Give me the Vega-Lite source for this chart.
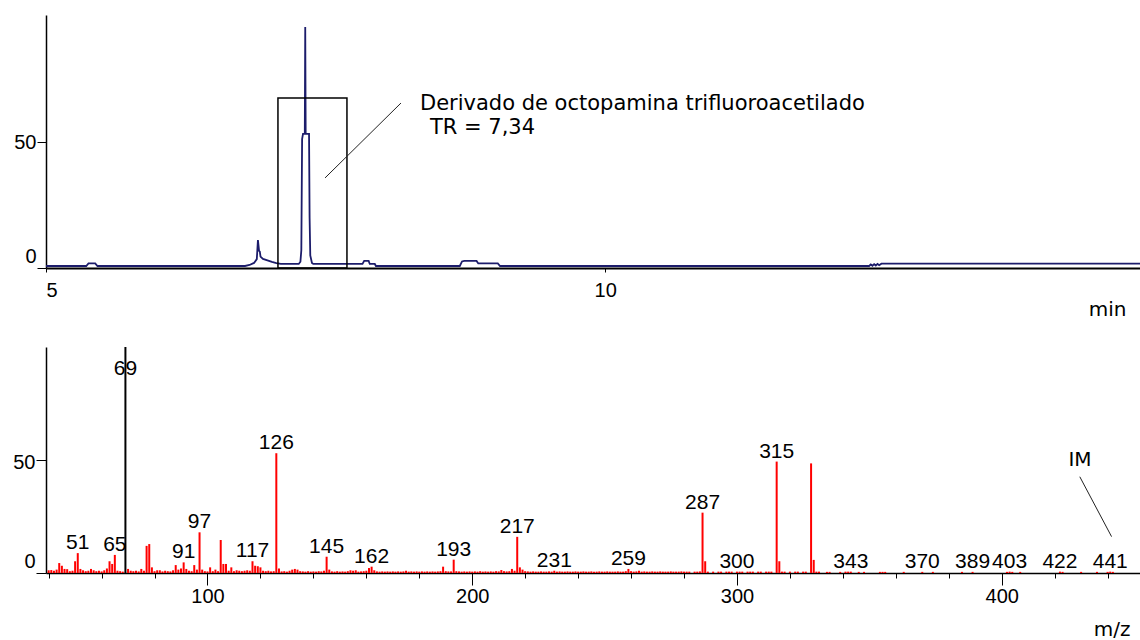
{
 "$schema": "https://vega.github.io/schema/vega-lite/v6.json",
 "padding": {"left": 12, "top": 15, "right": 0, "bottom": 0},
 "background": "white",
 "bounds": "flush",
 "spacing": 79,
 "config": {
  "view": {"stroke": null},
  "axis": {"grid": false, "domainColor": "#000", "tickColor": "#000", "labelColor": "#000", "labelFont": "Liberation Sans", "labelFontSize": 20, "titleFont": "DejaVu Sans", "titleFontSize": 20, "titleFontWeight": "normal", "titleColor": "#000", "labelOverlap": false}
 },
 "datasets": {
  "chrom": [
   {"t":5.0,"v":0.8},{"t":5.36,"v":0.8},{"t":5.38,"v":1.8},{"t":5.44,"v":1.8},{"t":5.46,"v":0.8},{"t":6.78,"v":0.8},{"t":6.82,"v":1.2},{"t":6.86,"v":2.0},{"t":6.885,"v":3.5},{"t":6.895,"v":11.0},{"t":6.9,"v":9.0},{"t":6.905,"v":6.8},{"t":6.912,"v":6.5},{"t":6.918,"v":4.5},{"t":6.94,"v":3.6},{"t":6.98,"v":3.0},{"t":7.02,"v":2.4},{"t":7.06,"v":1.9},{"t":7.1,"v":1.6},{"t":7.26,"v":1.6},{"t":7.275,"v":2.5},{"t":7.283,"v":7.0},{"t":7.29,"v":51.0},{"t":7.298,"v":53.0},{"t":7.314,"v":53.0},{"t":7.318,"v":95.3},{"t":7.322,"v":53.0},{"t":7.352,"v":53.0},{"t":7.357,"v":20.0},{"t":7.363,"v":5.0},{"t":7.378,"v":2.0},{"t":7.39,"v":1.6},{"t":7.83,"v":1.6},{"t":7.845,"v":2.8},{"t":7.885,"v":2.8},{"t":7.895,"v":1.6},{"t":7.94,"v":1.6},{"t":7.95,"v":0.8},{"t":8.7,"v":0.8},{"t":8.72,"v":2.6},{"t":8.74,"v":2.8},{"t":8.85,"v":2.8},{"t":8.865,"v":1.8},{"t":9.04,"v":1.8},{"t":9.06,"v":0.8},{"t":12.36,"v":0.8},{"t":12.375,"v":1.4},{"t":12.39,"v":0.9},{"t":12.405,"v":1.5},{"t":12.42,"v":1.0},{"t":12.435,"v":1.6},{"t":12.45,"v":1.1},{"t":12.47,"v":1.7},{"t":14.8,"v":1.7}
  ],
  "ms": [
   {"mz":40,"i":1.2},{"mz":41,"i":1.3},{"mz":42,"i":1.0},{"mz":43,"i":1.5},{"mz":44,"i":4.4},{"mz":45,"i":3.2},{"mz":46,"i":1.8},{"mz":47,"i":1.7},{"mz":48,"i":0.8},{"mz":49,"i":1.0},{"mz":50,"i":5.2},{"mz":51,"i":8.8,"lab":"51"},{"mz":52,"i":1.8},{"mz":53,"i":1.2},{"mz":54,"i":0.8},{"mz":55,"i":1.0},{"mz":56,"i":1.8},{"mz":57,"i":1.2},{"mz":58,"i":0.8},{"mz":59,"i":1.0},{"mz":60,"i":0.7},{"mz":61,"i":1.2},{"mz":62,"i":2.0},{"mz":63,"i":5.2},{"mz":64,"i":4.0},{"mz":65,"i":8.0,"lab":"65"},{"mz":66,"i":1.0},{"mz":67,"i":0.8},{"mz":68,"i":0.6},{"mz":69,"i":100},{"mz":70,"i":1.8},{"mz":71,"i":1.0},{"mz":72,"i":0.8},{"mz":73,"i":1.0},{"mz":74,"i":0.7},{"mz":75,"i":1.8},{"mz":76,"i":1.0},{"mz":77,"i":12.0},{"mz":78,"i":12.8},{"mz":79,"i":2.5},{"mz":80,"i":0.8},{"mz":81,"i":1.2},{"mz":82,"i":1.2},{"mz":83,"i":0.7},{"mz":84,"i":1.0},{"mz":85,"i":0.8},{"mz":86,"i":0.7},{"mz":87,"i":1.2},{"mz":88,"i":3.5},{"mz":89,"i":1.5},{"mz":90,"i":2.0},{"mz":91,"i":4.7,"lab":"91"},{"mz":92,"i":1.8},{"mz":93,"i":1.0},{"mz":94,"i":0.8},{"mz":95,"i":3.5},{"mz":96,"i":1.5},{"mz":97,"i":18.0,"lab":"97"},{"mz":98,"i":1.5},{"mz":99,"i":0.8},{"mz":100,"i":0.7},{"mz":101,"i":2.5},{"mz":102,"i":0.8},{"mz":103,"i":1.5},{"mz":104,"i":0.8},{"mz":105,"i":14.6},{"mz":106,"i":4.0},{"mz":107,"i":4.0},{"mz":108,"i":1.0},{"mz":109,"i":2.5},{"mz":110,"i":0.8},{"mz":111,"i":1.2},{"mz":112,"i":1.0},{"mz":113,"i":0.8},{"mz":114,"i":1.0},{"mz":115,"i":1.2},{"mz":116,"i":1.0},{"mz":117,"i":5.2,"lab":"117"},{"mz":118,"i":3.2},{"mz":119,"i":3.0},{"mz":120,"i":2.5},{"mz":121,"i":1.0},{"mz":122,"i":0.8},{"mz":123,"i":1.0},{"mz":124,"i":0.7},{"mz":125,"i":0.8},{"mz":126,"i":53,"lab":"126"},{"mz":127,"i":2.0},{"mz":128,"i":0.7},{"mz":129,"i":0.8},{"mz":130,"i":0.6},{"mz":131,"i":1.0},{"mz":132,"i":1.5},{"mz":133,"i":1.8},{"mz":134,"i":1.5},{"mz":135,"i":0.8},{"mz":136,"i":0.7},{"mz":137,"i":0.6},{"mz":138,"i":0.8},{"mz":139,"i":0.6},{"mz":140,"i":0.7},{"mz":141,"i":0.6},{"mz":142,"i":0.8},{"mz":143,"i":0.7},{"mz":144,"i":1.0},{"mz":145,"i":7.2,"lab":"145"},{"mz":146,"i":1.5},{"mz":147,"i":0.7},{"mz":148,"i":0.6},{"mz":149,"i":0.8},{"mz":150,"i":0.6},{"mz":151,"i":0.7},{"mz":152,"i":0.6},{"mz":153,"i":0.8},{"mz":154,"i":1.2},{"mz":155,"i":1.0},{"mz":156,"i":1.2},{"mz":157,"i":0.6},{"mz":158,"i":0.7},{"mz":159,"i":0.8},{"mz":160,"i":1.0},{"mz":161,"i":2.2},{"mz":162,"i":2.8,"lab":"162"},{"mz":163,"i":1.2},{"mz":164,"i":0.7},{"mz":165,"i":0.6},{"mz":166,"i":0.7},{"mz":167,"i":0.6},{"mz":168,"i":0.7},{"mz":169,"i":0.6},{"mz":170,"i":0.7},{"mz":171,"i":0.6},{"mz":172,"i":0.7},{"mz":173,"i":0.6},{"mz":174,"i":0.7},{"mz":175,"i":1.0},{"mz":176,"i":0.6},{"mz":177,"i":0.7},{"mz":178,"i":0.6},{"mz":179,"i":0.7},{"mz":180,"i":0.6},{"mz":181,"i":0.7},{"mz":182,"i":0.6},{"mz":183,"i":0.7},{"mz":184,"i":0.6},{"mz":185,"i":0.7},{"mz":186,"i":0.6},{"mz":187,"i":0.7},{"mz":188,"i":0.8},{"mz":189,"i":2.8},{"mz":190,"i":0.8},{"mz":191,"i":0.7},{"mz":192,"i":0.7},{"mz":193,"i":5.9,"lab":"193"},{"mz":194,"i":0.8},{"mz":195,"i":0.7},{"mz":196,"i":0.6},{"mz":197,"i":0.7},{"mz":198,"i":0.6},{"mz":199,"i":0.7},{"mz":200,"i":0.6},{"mz":201,"i":0.7},{"mz":202,"i":0.6},{"mz":203,"i":0.8},{"mz":204,"i":0.6},{"mz":205,"i":0.7},{"mz":206,"i":0.6},{"mz":207,"i":0.7},{"mz":208,"i":0.6},{"mz":209,"i":0.8},{"mz":210,"i":0.7},{"mz":211,"i":1.3},{"mz":212,"i":0.8},{"mz":213,"i":0.7},{"mz":214,"i":0.8},{"mz":215,"i":1.8},{"mz":216,"i":1.0},{"mz":217,"i":16.0,"lab":"217"},{"mz":218,"i":2.5},{"mz":219,"i":1.5},{"mz":220,"i":0.8},{"mz":221,"i":0.7},{"mz":222,"i":0.6},{"mz":223,"i":0.7},{"mz":224,"i":0.6},{"mz":225,"i":0.6},{"mz":226,"i":0.7},{"mz":227,"i":0.6},{"mz":228,"i":0.6},{"mz":229,"i":0.7},{"mz":230,"i":0.6},{"mz":231,"i":1.0,"lab":"231"},{"mz":232,"i":0.6},{"mz":233,"i":0.7},{"mz":234,"i":0.6},{"mz":235,"i":0.6},{"mz":236,"i":0.7},{"mz":237,"i":0.6},{"mz":238,"i":0.6},{"mz":239,"i":0.7},{"mz":240,"i":0.6},{"mz":241,"i":0.6},{"mz":242,"i":0.7},{"mz":243,"i":0.6},{"mz":244,"i":0.6},{"mz":245,"i":0.7},{"mz":246,"i":0.6},{"mz":247,"i":0.6},{"mz":248,"i":0.7},{"mz":249,"i":0.6},{"mz":250,"i":0.6},{"mz":251,"i":0.7},{"mz":252,"i":0.6},{"mz":253,"i":0.6},{"mz":254,"i":0.6},{"mz":255,"i":0.7},{"mz":256,"i":0.6},{"mz":257,"i":0.6},{"mz":258,"i":0.8},{"mz":259,"i":1.8,"lab":"259"},{"mz":260,"i":0.8},{"mz":261,"i":0.6},{"mz":262,"i":0.7},{"mz":263,"i":1.0},{"mz":264,"i":0.6},{"mz":265,"i":0.7},{"mz":266,"i":0.6},{"mz":267,"i":0.6},{"mz":268,"i":0.7},{"mz":269,"i":0.6},{"mz":270,"i":0.6},{"mz":271,"i":0.7},{"mz":272,"i":0.6},{"mz":273,"i":0.6},{"mz":274,"i":0.6},{"mz":275,"i":0.7},{"mz":276,"i":0.6},{"mz":277,"i":0.6},{"mz":278,"i":0.6},{"mz":279,"i":0.7},{"mz":280,"i":0.6},{"mz":281,"i":0.6},{"mz":282,"i":0.6},{"mz":284,"i":0.6},{"mz":285,"i":0.6},{"mz":286,"i":0.7},{"mz":287,"i":26.7,"lab":"287"},{"mz":288,"i":5.2},{"mz":289,"i":0.6},{"mz":291,"i":0.6},{"mz":293,"i":0.6},{"mz":294,"i":0.6},{"mz":296,"i":0.6},{"mz":297,"i":0.6},{"mz":298,"i":0.6},{"mz":300,"i":0.6,"lab":"300"},{"mz":301,"i":0.6},{"mz":302,"i":0.6},{"mz":304,"i":0.6},{"mz":305,"i":0.6},{"mz":306,"i":0.6},{"mz":308,"i":0.6},{"mz":309,"i":0.6},{"mz":311,"i":0.6},{"mz":312,"i":0.6},{"mz":313,"i":0.6},{"mz":315,"i":49.3,"lab":"315"},{"mz":316,"i":5.2},{"mz":317,"i":0.6},{"mz":318,"i":0.6},{"mz":320,"i":0.6},{"mz":322,"i":0.6},{"mz":323,"i":0.6},{"mz":325,"i":0.6},{"mz":326,"i":0.6},{"mz":328,"i":48.5},{"mz":329,"i":5.8},{"mz":330,"i":0.6},{"mz":331,"i":0.6},{"mz":334,"i":0.5},{"mz":335,"i":0.5},{"mz":339,"i":0.5},{"mz":341,"i":0.6},{"mz":342,"i":0.6},{"mz":343,"i":0.6,"lab":"343"},{"mz":346,"i":0.5},{"mz":348,"i":0.5},{"mz":354,"i":0.5},{"mz":355,"i":0.5},{"mz":356,"i":0.5},{"mz":363,"i":0.5},{"mz":370,"i":0.5,"lab":"370"},{"mz":374,"i":0.5},{"mz":385,"i":0.5},{"mz":389,"i":0.5,"lab":"389"},{"mz":402,"i":0.5},{"mz":403,"i":0.6,"lab":"403"},{"mz":404,"i":0.5},{"mz":407,"i":0.5},{"mz":422,"i":0.6,"lab":"422"},{"mz":423,"i":0.5},{"mz":430,"i":0.5},{"mz":436,"i":0.5},{"mz":440,"i":0.5},{"mz":441,"i":0.6,"lab":"441"},{"mz":442,"i":0.5}
  ]
 },
 "vconcat": [
  {
   "width": 1096,
   "height": 253,
   "layer": [
    {
     "data": {"name": "chrom"},
     "mark": {"type": "line", "color": "#1c1c6b", "strokeWidth": 1.8, "clip": true},
     "encoding": {
      "x": {"field": "t", "type": "quantitative", "scale": {"domain": [5, 14.8], "nice": false, "zero": false},
            "axis": {"title": "min", "values": [5, 10], "format": "d", "tickSize": 4, "labelPadding": 18.5, "labelBaseline": "middle", "labelFlush": true, "domainWidth": 2, "titleX": 1080, "titleY": 47, "titleAlign": "right", "titleBaseline": "alphabetic"}},
      "y": {"field": "v", "type": "quantitative", "scale": {"domain": [0, 100], "nice": false},
            "axis": {"title": null, "values": [0, 50], "tickSize": 9, "labelPadding": 1, "labelBaseline": "middle", "domainWidth": 1.5,
                     "labelOffset": {"condition": {"test": "datum.value === 0", "value": -12}, "value": 1}}}
     }
    },
    {
     "data": {"values": [{"t": 7.074, "t2": 7.691, "v": 0, "v2": 67.2}]},
     "mark": {"type": "rect", "fill": "white", "fillOpacity": 0, "stroke": "#000", "strokeWidth": 1.5},
     "encoding": {
      "x": {"field": "t", "type": "quantitative"},
      "x2": {"field": "t2"},
      "y": {"field": "v", "type": "quantitative"},
      "y2": {"field": "v2"}
     }
    },
    {
     "data": {"values": [{"t": 7.495, "v": 35.6, "t2": 8.174, "v2": 65.2}]},
     "mark": {"type": "rule", "color": "#222", "strokeWidth": 1},
     "encoding": {
      "x": {"field": "t", "type": "quantitative"},
      "x2": {"field": "t2"},
      "y": {"field": "v", "type": "quantitative"},
      "y2": {"field": "v2"}
     }
    },
    {
     "data": {"values": [{"t": 8.344, "v": 64.8, "txt": "Derivado de octopamina trifluoroacetilado"}, {"t": 8.433, "v": 55.3, "txt": "TR = 7,34"}]},
     "mark": {"type": "text", "align": "left", "baseline": "middle", "font": "DejaVu Sans", "fontSize": 21, "color": "#000"},
     "encoding": {
      "x": {"field": "t", "type": "quantitative"},
      "y": {"field": "v", "type": "quantitative"},
      "text": {"field": "txt"}
     }
    }
   ]
  },
  {
   "width": 1096,
   "height": 226,
   "layer": [
    {
     "data": {"name": "ms"},
     "mark": {"type": "rule", "strokeWidth": 2},
     "encoding": {
      "x": {"field": "mz", "type": "quantitative", "scale": {"domain": [39, 453], "nice": false, "zero": false},
            "axis": {"title": "m/z", "values": [40,50,60,70,80,90,100,110,120,130,140,150,160,170,180,190,200,210,220,230,240,250,260,270,280,290,300,310,320,330,340,350,360,370,380,390,400,410,420,430,440,450],
                     "tickSize": {"condition": {"test": "datum.value % 50 === 0", "value": 12}, "value": 5},
                     "labelExpr": "datum.value % 100 === 0 ? datum.label : ''",
                     "labelPadding": 11.5, "labelBaseline": "middle", "domainWidth": 1.5,
                     "titleX": 1084, "titleY": 62, "titleAlign": "right", "titleBaseline": "alphabetic"}},
      "y": {"field": "i", "type": "quantitative", "scale": {"domain": [0, 100], "nice": false},
            "axis": {"title": null, "values": [0, 50], "tickSize": 10, "labelPadding": 1, "labelBaseline": "middle", "domainWidth": 1.5,
                     "labelOffset": {"condition": {"test": "datum.value === 0", "value": -12}, "value": 2}}},
      "y2": {"datum": 0},
      "color": {"condition": {"test": "datum.mz === 69", "value": "#000"}, "value": "#ff0000"}
     }
    },
    {
     "data": {"name": "ms"},
     "transform": [{"filter": "datum.lab != null"}],
     "mark": {"type": "text", "baseline": "alphabetic", "dy": -4, "font": "Liberation Sans", "fontSize": 21, "color": "#000"},
     "encoding": {
      "x": {"field": "mz", "type": "quantitative"},
      "y": {"field": "i", "type": "quantitative"},
      "text": {"field": "lab"}
     }
    },
    {
     "data": {"values": [{"mz": 69, "i": 87.6, "lab": "69"}]},
     "mark": {"type": "text", "baseline": "alphabetic", "font": "Liberation Sans", "fontSize": 21, "color": "#000"},
     "encoding": {
      "x": {"field": "mz", "type": "quantitative"},
      "y": {"field": "i", "type": "quantitative"},
      "text": {"field": "lab"}
     }
    },
    {
     "data": {"values": [{"mz": 429.5, "i": 42.6, "mz2": 441.5, "i2": 16.1}]},
     "mark": {"type": "rule", "color": "#222", "strokeWidth": 1},
     "encoding": {
      "x": {"field": "mz", "type": "quantitative"},
      "x2": {"field": "mz2"},
      "y": {"field": "i", "type": "quantitative"},
      "y2": {"field": "i2"}
     }
    },
    {
     "data": {"values": [{"mz": 429.6, "i": 50, "lab": "IM"}]},
     "mark": {"type": "text", "baseline": "middle", "font": "DejaVu Sans", "fontSize": 20, "color": "#000"},
     "encoding": {
      "x": {"field": "mz", "type": "quantitative"},
      "y": {"field": "i", "type": "quantitative"},
      "text": {"field": "lab"}
     }
    }
   ]
  }
 ]
}
